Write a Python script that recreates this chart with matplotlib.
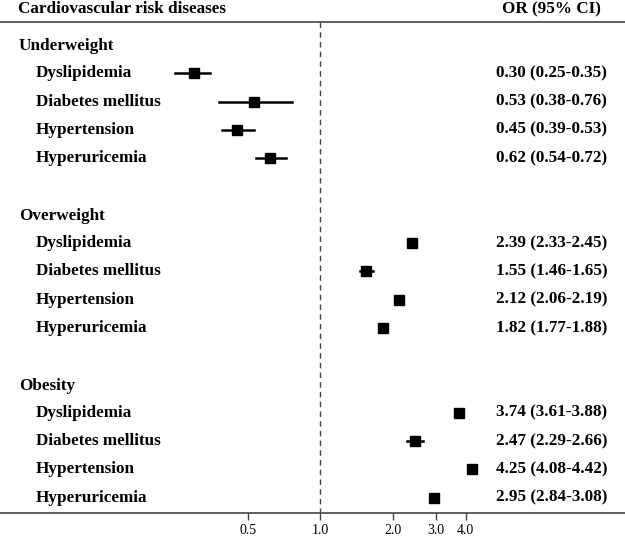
import matplotlib
matplotlib.use('Agg')
import matplotlib.pyplot as plt

groups = ['Underweight', 'Overweight', 'Obesity']
diseases = ['Dyslipidemia', 'Diabetes mellitus', 'Hypertension', 'Hyperuricemia']

or_values = [[0.30, 0.53, 0.45, 0.62],
             [2.39, 1.55, 2.12, 1.82],
             [3.74, 2.47, 4.25, 2.95]]
ci_low = [[0.25, 0.38, 0.39, 0.54],
          [2.33, 1.46, 2.06, 1.77],
          [3.61, 2.29, 4.08, 2.84]]
ci_high = [[0.35, 0.76, 0.53, 0.72],
           [2.45, 1.65, 2.19, 1.88],
           [3.88, 2.66, 4.42, 3.08]]

tick_values = [0.5, 1.0, 2.0, 3.0, 4.0]
tick_labels = ['0.5', '1.0', '2.0', '3.0', '4.0']

plt.rcParams['font.family'] = ['Liberation Serif', 'DejaVu Serif']

fig = plt.figure(figsize=(6.25, 5.39), dpi=100)
ax = fig.add_axes([0, 26 / 539, 1, 513 / 539])
ax.set_xscale('log')
ax.set_xlim(0.047, 18.3)
ax.set_ylim(17.54, -0.59)

trans = ax.get_yaxis_transform()  # x in axes coords, y in data
fs = 12.3

ax.text(18 / 625, -0.27, 'Cardiovascular risk diseases', transform=trans,
        fontsize=fs, fontweight='bold', va='center', ha='left')
ax.text(502 / 625, -0.27, 'OR (95% CI)', transform=trans,
        fontsize=fs, fontweight='bold', va='center', ha='left')
ax.axhline(0.19, color='#444444', lw=1.2)

row = 1
for g, group in enumerate(groups):
    ax.text(19 / 625, row + 0.05, group, transform=trans, fontsize=fs,
            fontweight='bold', va='center', ha='left')
    row += 1
    for d, disease in enumerate(diseases):
        ax.text(36 / 625, row, disease, transform=trans, fontsize=fs,
                fontweight='bold', va='center', ha='left')
        ax.plot([ci_low[g][d], ci_high[g][d]], [row, row], color='black',
                lw=1.8, solid_capstyle='projecting')
        ax.plot(or_values[g][d], row, marker='s', color='black', markersize=6.8)
        txt = '%.2f (%.2f-%.2f)' % (or_values[g][d], ci_low[g][d], ci_high[g][d])
        ax.text(496 / 625, row, txt, transform=trans, fontsize=fs,
                fontweight='bold', va='center', ha='left')
        row += 1
    row += 1

# reference line at OR = 1
ax.plot([1, 1], [0.19, 17.54], color='#444444', lw=1, linestyle=(0, (4, 3)))

for s in ['top', 'left', 'right']:
    ax.spines[s].set_visible(False)
ax.spines['bottom'].set_color('#444444')
ax.spines['bottom'].set_linewidth(1.2)
ax.set_yticks([])
ax.set_xticks(tick_values)
ax.set_xticklabels(tick_labels)
ax.minorticks_off()
ax.tick_params(axis='x', direction='out', length=5, width=1, color='#444444',
               labelsize=10, pad=3)

fig.savefig('out.png', dpi=100)
